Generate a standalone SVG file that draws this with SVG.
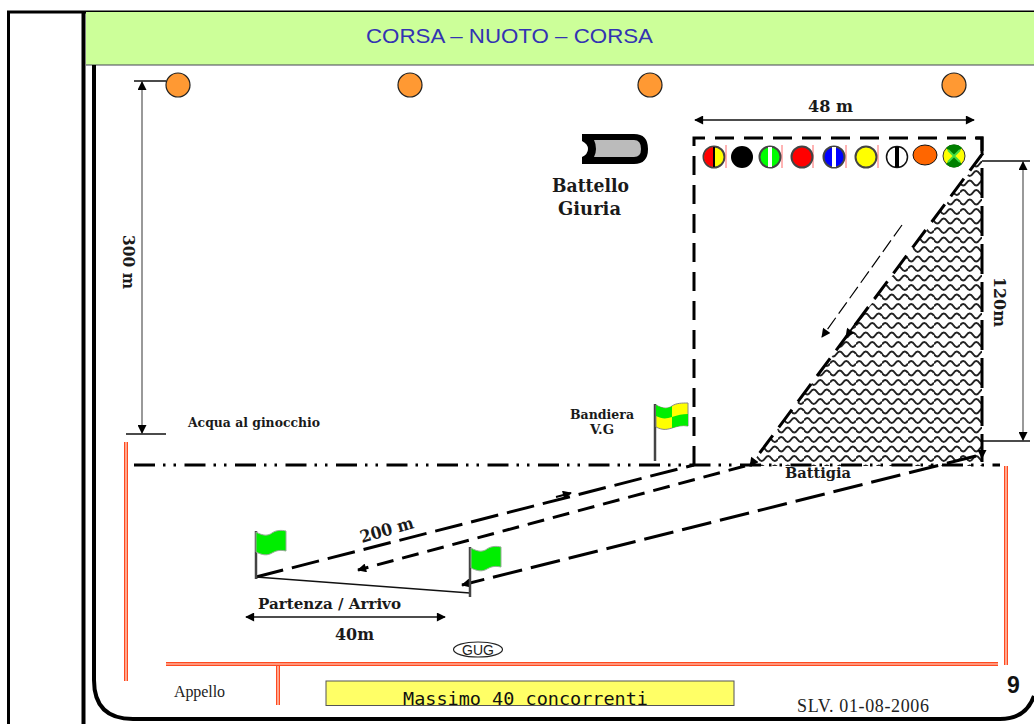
<svg xmlns="http://www.w3.org/2000/svg" width="1034" height="724" viewBox="0 0 1034 724">
<style>
.b{font-family:"DejaVu Serif","Liberation Serif",serif;font-weight:bold;fill:#1a1a1a}
.t{font-family:"Liberation Serif",serif;fill:#222}
.thin{fill:none;stroke:#111;stroke-width:1.3}
.dim{fill:none;stroke:#777;stroke-width:1.5}
.dash{fill:none;stroke:#000;stroke-width:3}
.red{fill:none;stroke:#ff4a20;stroke-width:4}
.redc{fill:none;stroke:#ffe4d8;stroke-width:1.2}
.pole{stroke:#444;stroke-width:2.5;fill:none}
.lamp{fill:#ff9933;stroke:#222;stroke-width:1.2}
.ball{stroke:#444;stroke-width:2}
.mark{stroke:#ff6a6a;stroke-width:1}
</style>
<defs>
<pattern id="wave" width="26" height="19" patternUnits="userSpaceOnUse" patternTransform="translate(752 150)">
<path d="M0 4.500q3.250 -5 6.500 0t6.500 0t6.500 0t6.500 0M-6.500 14q3.250 -5 6.500 0t6.500 0t6.500 0t6.500 0t6.500 0" fill="none" stroke="#222" stroke-width="2"/>
</pattern>
<marker id="ah" viewBox="0 0 10 10" refX="9" refY="5" markerWidth="10" markerHeight="9" markerUnits="userSpaceOnUse" orient="auto-start-reverse"><path d="M0 0L10 5L0 10Z" fill="#000"/></marker>
<path id="flagshape" d="M0 2c7 4 12 4 16 1s10 -3 14 -2v20c-5 -1 -9 -1 -14 2s-10 2 -16 -1z"/>
</defs>

<g id="frame">
<path d="M8.500 724V12H1034" fill="none" stroke="#000" stroke-width="3"/>
<rect x="86" y="12" width="948" height="53" fill="#ccff99"/>
<path d="M86 65H1034" stroke="#445" stroke-width="1"/>
<path d="M83.500 11V724" stroke="#000" stroke-width="4"/>
<path d="M94 65V680Q94 719 133 719H1000Q1026 719 1034 696" fill="none" stroke="#000" stroke-width="4"/>
</g>
<text id="title" x="366" y="43" font-family="Liberation Sans,sans-serif" font-size="21" fill="#3333b2" textLength="287" lengthAdjust="spacingAndGlyphs">CORSA – NUOTO – CORSA</text>

<g id="lamps">
<circle class="lamp" cx="178" cy="85" r="12"/>
<circle class="lamp" cx="410" cy="85" r="12"/>
<circle class="lamp" cx="650" cy="85" r="12"/>
<circle class="lamp" cx="954" cy="85" r="12"/>
</g>

<g id="beach">
<path d="M982 156V466H750Z" fill="url(#wave)"/>
</g>

<g id="connectors">
<path class="thin" d="M134 81H166M126 434H166M982 161H1030M982 441H1030"/>
<path class="dim" d="M142 82V433" marker-start="url(#ah)" marker-end="url(#ah)"/>
<path class="dim" d="M1023 162V440" marker-start="url(#ah)" marker-end="url(#ah)"/>
<path class="thin" d="M695 120H974" marker-start="url(#ah)" marker-end="url(#ah)"/>
<path class="thin" d="M246 617H445" marker-start="url(#ah)" marker-end="url(#ah)"/>
<path class="dash" d="M694 465V138H982V153" stroke-dasharray="19 10"/>
<path class="dash" d="M975 138H982V153"/>
<path class="dash" d="M983 153L750 466" stroke-dasharray="22 10" marker-end="url(#ah)"/>
<path class="dash" d="M982 168V462" stroke-dasharray="30 8"/>
<path d="M134 465H1000" fill="none" stroke="#000" stroke-width="3" stroke-dasharray="21 8 2.500 8 2.500 8.500"/>
<path class="dash" d="M256 577L694 465" stroke-dasharray="28 9" />
<path class="dash" d="M745 466L358 570" stroke-dasharray="17 9" marker-end="url(#ah)"/>
<path class="dash" d="M976 456L462 585" stroke-dasharray="30 9" marker-end="url(#ah)"/>
<path d="M556 497L571 493" stroke="#000" stroke-width="2" marker-end="url(#ah)"/>
<path d="M902 225L822 337" fill="none" stroke="#000" stroke-width="1.200" stroke-dasharray="14 5" marker-end="url(#ah)"/>
<path d="M856 323L846 337" stroke="#000" stroke-width="2" marker-end="url(#ah)"/>
<path d="M982 445V458" stroke="#000" stroke-width="2" marker-end="url(#ah)"/>
<path d="M256 577L470 593" class="thin"/>
</g>

<g id="fences">
<path class="red" d="M126 442V681M166 664H998M278 666V705M1006 466V665"/>
<path class="redc" d="M126 442V681M166 664H998M278 666V705M1006 466V665"/>
</g>

<g id="boat">
<path d="M582 134H634Q648 134 648 149Q648 164 634 164H582V157Q588 154 588 149Q588 144 582 141Z" fill="#000"/>
<path d="M594 140H634Q641 140 641 149Q641 157 634 157H594Q596 153 596 149Q596 144 594 140Z" fill="#bbb"/>
<text class="b" x="552" y="192" font-size="18" textLength="77" lengthAdjust="spacingAndGlyphs">Battello</text>
<text class="b" x="558" y="215" font-size="18" textLength="63" lengthAdjust="spacingAndGlyphs">Giuria</text>
</g>

<g id="balls">
<circle cx="714" cy="157" r="10.500" fill="#ffff00" class="ball"/>
<path d="M714 147a10 10 0 0 0 0 20z" fill="#ff0000"/>
<path d="M714 147V167" stroke="#000" stroke-width="2"/>
<path class="mark" d="M726 145V168M782 145V168M813 145V168M846 145V168M878 145V168"/>
<circle cx="742" cy="157" r="11" fill="#000"/>
<circle cx="770" cy="157" r="10.500" fill="#00ff00" class="ball"/>
<path d="M770 147V167" stroke="#fff" stroke-width="4"/>
<circle cx="802" cy="157" r="10.500" fill="#ff0000" class="ball"/>
<circle cx="834" cy="157" r="10.500" fill="#0000ff" class="ball"/>
<path d="M834 147V167" stroke="#fff" stroke-width="4"/>
<circle cx="866" cy="157" r="10.500" fill="#ffff00" class="ball"/>
<circle cx="897" cy="157" r="10.500" fill="#fff" stroke="#111" stroke-width="1.500"/>
<path d="M897 147V167" stroke="#000" stroke-width="4"/>
<ellipse cx="925" cy="155" rx="12" ry="10" fill="#ff6600" stroke="#111" stroke-width="1"/>
<circle cx="954" cy="156" r="11" fill="#ffff00" stroke="#333" stroke-width="1"/>
<path d="M954 156L946 148A11 11 0 0 1 962 148ZM954 156L946 164A11 11 0 0 0 962 164Z" fill="#008000"/>
<path d="M954 156L948 150M954 156L960 150M954 156L948 162M954 156L960 162" stroke="#44dd44" stroke-width="2"/>
</g>

<g id="flagVG">
<path class="pole" d="M655 404V461"/>
<path d="M656 405c7 4 12 4 16 1s10 -3 16 -3v23c-6 -1 -10 0 -16 2s-10 2 -16 -1z" fill="#ffff00" stroke="#888" stroke-width="1"/>
<path d="M656 405c7 4 12 4 16 1v11c-6 2 -10 2 -16 -1z" fill="#00ee00"/>
<path d="M672 417c6 -2 10 -3 16 -3v12c-6 -1 -10 0 -16 2z" fill="#00ee00"/>
</g>
<g id="flagStart">
<path class="pole" d="M256 531V579"/>
<use href="#flagshape" transform="translate(256 530)" fill="#00ee00" stroke="#9a9" stroke-width="1"/>
</g>
<g id="flagMid">
<path class="pole" d="M470 547V597"/>
<use href="#flagshape" transform="translate(471 546)" fill="#00ee00" stroke="#9a9" stroke-width="1"/>
</g>

<g id="labels">
<text class="b" x="808" y="112" font-size="17" textLength="45" lengthAdjust="spacingAndGlyphs">48 m</text>
<text class="b" font-size="17" transform="translate(123 235) rotate(90)" textLength="54" lengthAdjust="spacingAndGlyphs">300 m</text>
<text class="b" font-size="17" transform="translate(994 277) rotate(90)" textLength="50" lengthAdjust="spacingAndGlyphs">120m</text>
<text class="b" x="188" y="427" font-size="13" textLength="132" lengthAdjust="spacingAndGlyphs">Acqua al ginocchio</text>
<text class="b" x="570" y="419" font-size="13" textLength="64" lengthAdjust="spacingAndGlyphs">Bandiera</text>
<text class="b" x="590" y="434" font-size="13" textLength="24" lengthAdjust="spacingAndGlyphs">V.G</text>
<text class="b" x="785" y="478" font-size="15" textLength="66" lengthAdjust="spacingAndGlyphs">Battigia</text>
<text class="b" font-size="17" transform="translate(362 543) rotate(-16)" textLength="55" lengthAdjust="spacingAndGlyphs">200 m</text>
<text class="b" x="258" y="609" font-size="15.500" textLength="143" lengthAdjust="spacingAndGlyphs">Partenza / Arrivo</text>
<text class="b" x="335" y="640" font-size="17" textLength="39" lengthAdjust="spacingAndGlyphs">40m</text>
<text class="t" x="174" y="697" font-size="16" textLength="51">Appello</text>
<text class="t" x="797" y="712" font-size="18" textLength="132">SLV. 01-08-2006</text>
<text x="1007" y="693" font-family="Liberation Sans,sans-serif" font-weight="bold" font-size="23" fill="#111">9</text>
</g>

<g id="gug">
<ellipse cx="478" cy="649.500" rx="24.500" ry="7.500" fill="#fff" stroke="#222" stroke-width="1.200"/>
<text x="478" y="654.500" font-family="Liberation Sans,sans-serif" font-size="14" text-anchor="middle" fill="#222">GUG</text>
</g>
<g id="note">
<rect x="326" y="681" width="408" height="24.500" fill="#ffff66" stroke="#555" stroke-width="1"/>
<text x="403" y="705" font-family="DejaVu Sans Mono,monospace" font-size="18" fill="#111" textLength="245" lengthAdjust="spacingAndGlyphs">Massimo 40 concorrenti</text>
</g>
</svg>
